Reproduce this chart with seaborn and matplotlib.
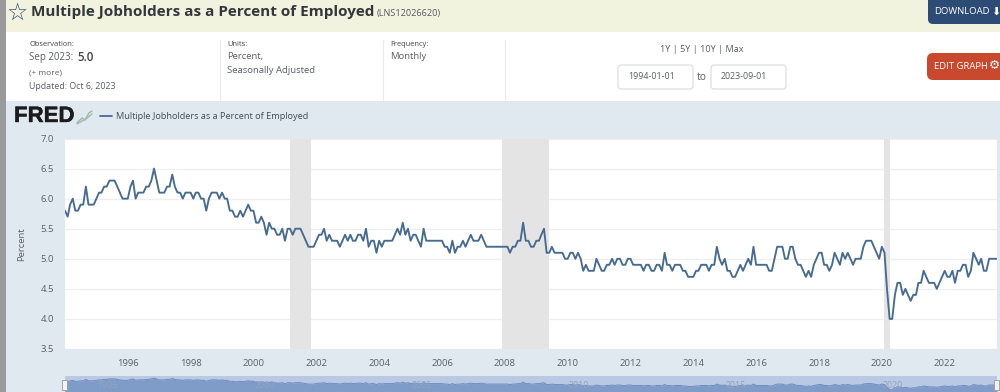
#!/usr/bin/env python3
from __future__ import annotations

import matplotlib
matplotlib.use('Agg')
import matplotlib.dates as mdates
import matplotlib.patheffects as pe
import matplotlib.pyplot as plt
from matplotlib.patches import FancyBboxPatch, Rectangle
import pandas as pd
import seaborn as sns

Y1994 = [5.8, 5.7, 5.9, 6.0, 5.8, 5.8, 5.9, 5.9, 6.2, 5.9, 5.9, 5.9]
Y1995 = [6.0, 6.1, 6.1, 6.2, 6.2, 6.3, 6.3, 6.3, 6.2, 6.1, 6.0, 6.0]
Y1996 = [6.0, 6.2, 6.3, 6.0, 6.1, 6.1, 6.1, 6.2, 6.2, 6.3, 6.5, 6.3]
Y1997 = [6.1, 6.1, 6.1, 6.2, 6.2, 6.4, 6.2, 6.1, 6.1, 6.0, 6.1, 6.1]
Y1998 = [6.1, 6.0, 6.1, 6.1, 6.0, 6.0, 5.8, 6.0, 6.1, 6.1, 6.1, 6.0]
Y1999 = [6.1, 6.0, 6.0, 5.8, 5.8, 5.7, 5.7, 5.8, 5.7, 5.8, 5.9, 5.8]
Y2000 = [5.8, 5.6, 5.6, 5.7, 5.6, 5.4, 5.6, 5.5, 5.5, 5.4, 5.4, 5.5]
Y2001 = [5.3, 5.5, 5.5, 5.4, 5.5, 5.5, 5.5, 5.4, 5.3, 5.2, 5.2, 5.2]
Y2002 = [5.3, 5.4, 5.4, 5.5, 5.3, 5.4, 5.3, 5.3, 5.3, 5.2, 5.3, 5.4]
Y2003 = [5.3, 5.4, 5.3, 5.3, 5.4, 5.4, 5.3, 5.5, 5.2, 5.3, 5.3, 5.1]
Y2004 = [5.3, 5.2, 5.3, 5.3, 5.3, 5.3, 5.4, 5.5, 5.4, 5.6, 5.4, 5.5]
Y2005 = [5.3, 5.4, 5.4, 5.3, 5.2, 5.5, 5.3, 5.3, 5.3, 5.3, 5.3, 5.3]
Y2006 = [5.3, 5.2, 5.2, 5.1, 5.3, 5.1, 5.2, 5.2, 5.3, 5.2, 5.3, 5.4]
Y2007 = [5.3, 5.3, 5.3, 5.4, 5.3, 5.2, 5.2, 5.2, 5.2, 5.2, 5.2, 5.2]
Y2008 = [5.2, 5.2, 5.1, 5.2, 5.2, 5.3, 5.3, 5.6, 5.3, 5.3, 5.2, 5.2]
Y2009 = [5.3, 5.3, 5.4, 5.5, 5.1, 5.1, 5.2, 5.1, 5.1, 5.1, 5.1, 5.0]
Y2010 = [5.0, 5.1, 5.1, 5.0, 5.1, 5.0, 4.8, 4.9, 4.8, 4.8, 4.8, 5.0]
Y2011 = [4.9, 4.8, 4.8, 4.9, 4.9, 5.0, 4.9, 5.0, 5.0, 4.9, 4.9, 5.0]
Y2012 = [5.0, 4.9, 4.9, 4.9, 4.9, 4.8, 4.9, 4.9, 4.8, 4.8, 4.9, 4.9]
Y2013 = [4.8, 5.1, 4.9, 4.9, 4.8, 4.9, 4.9, 4.9, 4.8, 4.8, 4.7, 4.7]
Y2014 = [4.7, 4.8, 4.8, 4.9, 4.9, 4.9, 4.8, 4.9, 4.9, 5.2, 5.0, 4.9]
Y2015 = [5.0, 4.8, 4.8, 4.7, 4.7, 4.8, 4.9, 4.8, 4.9, 5.0, 4.9, 5.2]
Y2016 = [4.9, 4.9, 4.9, 4.9, 4.9, 4.8, 4.8, 5.0, 5.2, 5.2, 5.2, 5.0]
Y2017 = [5.0, 5.2, 5.2, 5.0, 4.9, 4.9, 4.8, 4.7, 4.8, 4.7, 4.9, 5.0]
Y2018 = [5.1, 5.1, 4.9, 4.9, 4.8, 4.9, 5.1, 5.0, 4.9, 5.1, 5.0, 5.1]
Y2019 = [5.0, 4.9, 5.0, 5.0, 5.0, 5.2, 5.3, 5.3, 5.3, 5.2, 5.1, 5.0]
Y2020 = [5.2, 5.1, 4.5, 4.0, 4.0, 4.4, 4.6, 4.6, 4.4, 4.5, 4.4, 4.3]
Y2021 = [4.4, 4.4, 4.6, 4.6, 4.8, 4.7, 4.6, 4.6, 4.6, 4.5, 4.6, 4.7]
Y2022 = [4.8, 4.7, 4.7, 4.8, 4.6, 4.8, 4.8, 4.9, 4.9, 4.7, 4.8, 5.1]
Y2023 = [5.0, 4.9, 5.0, 4.8, 4.8, 5.0, 5.0, 5.0, 5.0]

VALUES = (Y1994 + Y1995 + Y1996 + Y1997 + Y1998 + Y1999 + Y2000 + Y2001 + Y2002 + Y2003
          + Y2004 + Y2005 + Y2006 + Y2007 + Y2008 + Y2009 + Y2010 + Y2011 + Y2012 + Y2013
          + Y2014 + Y2015 + Y2016 + Y2017 + Y2018 + Y2019 + Y2020 + Y2021 + Y2022 + Y2023)

RECESSIONS = [('2001-03-01', '2001-11-01'), ('2007-12-01', '2009-06-01'), ('2020-02-01', '2020-04-01')]
Y_TICKS = [3.5, 4.0, 4.5, 5.0, 5.5, 6.0, 6.5, 7.0]
X_YEARS = list(range(1996, 2024, 2))
NAV_YEARS = [1995, 2000, 2005, 2010, 2015, 2020]

LINE = '#466b91'
PANEL = '#e1e9f0'
TEXT = '#5a5f66'
W, H = 1000, 392


def add_axes_px(fig, left, top, right, bottom, **kw):
    return fig.add_axes([left / W, 1 - bottom / H, (right - left) / W, (bottom - top) / H], **kw)


def draw_page(bg) -> None:
    bg.set_xlim(0, W)
    bg.set_ylim(H, 0)
    bg.axis('off')
    bg.add_patch(Rectangle((0, 0), W, 32, color='#f2f3df', lw=0))
    bg.add_patch(Rectangle((0, 32), W, 69, color='white', lw=0))
    bg.add_patch(Rectangle((0, 101), W, H - 101, color=PANEL, lw=0))
    bg.add_patch(Rectangle((0, 0), 6, H, color='#9a9a9a', lw=0, zorder=5))
    for x in (219.5, 382.5, 504.5):
        bg.plot([x, x], [40, 100], color='#e9ebec', lw=0.8)

    bg.text(17, 12.5, '\u2606', fontsize=17, color='#2f5078', ha='center', va='center',
            family='DejaVu Sans', fontweight='bold')
    bg.text(31, 11.5, 'Multiple Jobholders as a Percent of Employed', fontsize=11, fontweight='bold',
            color='#33373b', va='center')
    bg.text(377, 13, '(LNS12026620)', fontsize=6.6, color='#555a60', va='center')

    bg.text(29, 44.5, 'Observation:', fontsize=5.4, color='#444', va='center')
    bg.text(29, 57, 'Sep 2023:', fontsize=7, color=TEXT, va='center')
    bg.text(77, 57, '5.0', fontsize=8.4, color='#444', va='center', fontweight='semibold')
    bg.text(29, 72.5, '(+ more)', fontsize=6, color=TEXT, va='center')
    bg.text(29, 86, 'Updated: Oct 6, 2023', fontsize=6.4, color=TEXT, va='center')
    bg.text(227, 44.5, 'Units:', fontsize=5.4, color='#444', va='center')
    bg.text(227, 56, 'Percent,', fontsize=6.8, color=TEXT, va='center')
    bg.text(227, 70, 'Seasonally Adjusted', fontsize=6.8, color=TEXT, va='center')
    bg.text(390, 44.5, 'Frequency:', fontsize=5.4, color='#444', va='center')
    bg.text(390, 56, 'Monthly', fontsize=6.8, color=TEXT, va='center')

    bg.text(702, 49.5, '1Y | 5Y | 10Y | Max', fontsize=6.6, color=TEXT, ha='center', va='center')
    for left, label in ((618, '1994-01-01'), (711, '2023-09-01')):
        bg.add_patch(FancyBboxPatch((left, 65), 75, 24, boxstyle='round,pad=0,rounding_size=3',
                                    fc='white', ec='#dcdfe2', lw=0.9))
        bg.text(left + 10, 76.5, label, fontsize=6.4, color=TEXT, va='center')
    bg.text(702, 77, 'to', fontsize=7.4, color=TEXT, ha='center', va='center')

    bg.add_patch(FancyBboxPatch((928, -8), 90, 32, boxstyle='round,pad=0,rounding_size=5', fc='#2c4b75', lw=0))
    bg.text(934, 11.5, 'DOWNLOAD', fontsize=6.8, color='white', va='center')
    bg.text(991, 11.5, '\u2b07', fontsize=8, color='white', va='center', family='DejaVu Sans')
    bg.add_patch(FancyBboxPatch((927, 53), 90, 27, boxstyle='round,pad=0,rounding_size=6', fc='#c9492f', lw=0))
    bg.text(934, 66, 'EDIT GRAPH', fontsize=6.8, color='white', va='center')
    bg.text(989, 65.5, '\u2699', fontsize=9, color='white', va='center', family='DejaVu Sans')

    bg.text(14, 116.5, 'FRED', fontsize=16, fontweight='bold', color='#1c1c1c', va='center',
            family='Liberation Sans', path_effects=[pe.withStroke(linewidth=0.3, foreground='#1c1c1c')])
    bg.plot([77, 82, 85, 89, 92], [123, 118, 120, 113, 111], color='#9db89a', lw=1)
    bg.plot([77, 82, 86, 92], [124, 121, 119, 114], color='#a9b4bd', lw=1)
    bg.plot([100, 112], [115.5, 115.5], color=LINE, lw=1.3)
    bg.text(116, 116.5, 'Multiple Jobholders as a Percent of Employed', fontsize=6.55, color='#444a50', va='center')


def main() -> None:
    sns.set_theme(style='white')
    plt.rcParams['font.family'] = ['Open Sans', 'DejaVu Sans']

    df = pd.DataFrame({'date': pd.date_range('1994-01-01', periods=len(VALUES), freq='MS'), 'value': VALUES})
    xlim = (df['date'].iloc[0], df['date'].iloc[-1])

    fig = plt.figure(figsize=(W / 100, H / 100), dpi=100)
    bg = fig.add_axes([0, 0, 1, 1])
    draw_page(bg)

    ax = add_axes_px(fig, 65, 138.5, 997, 349)
    for start, end in RECESSIONS:
        ax.axvspan(pd.Timestamp(start), pd.Timestamp(end), color='#e4e4e4', lw=0, zorder=1)
    sns.lineplot(data=df, x='date', y='value', ax=ax, color=LINE, lw=1.35, zorder=3)
    ax.set_xlim(*xlim)
    ax.set_ylim(3.5, 7.0)
    ax.set_yticks(Y_TICKS, [f'{v:.1f}' for v in Y_TICKS])
    ax.set_xticks([pd.Timestamp(f'{y}-01-01') for y in X_YEARS])
    ax.xaxis.set_major_formatter(mdates.DateFormatter('%Y'))
    ax.grid(axis='y', color='#efefef', lw=0.9, zorder=0)
    ax.set_axisbelow(True)
    ax.tick_params(axis='x', colors=TEXT, labelsize=6.8, length=3, width=0.6, color='#ccd6eb', pad=4)
    ax.tick_params(axis='y', colors=TEXT, labelsize=6.8, length=0, pad=8)
    ax.set_xlabel('')
    ax.set_ylabel('Percent', fontsize=6.8, color=TEXT, labelpad=10)
    sns.despine(ax=ax, left=True, bottom=True, top=True, right=True)

    nav = add_axes_px(fig, 65, 375.7, 997, 392)
    nav.set_facecolor('#b9c8e3')
    nav.fill_between(df['date'], df['value'], 3.0, color='#7f9bc8', lw=0)
    sns.lineplot(data=df, x='date', y='value', ax=nav, color='#6f8dbf', lw=0.7)
    nav.set_xlim(*xlim)
    nav.set_ylim(3.5, 7.0)
    nav.set_xticks([])
    nav.set_yticks([])
    nav.set_xlabel('')
    nav.set_ylabel('')
    sns.despine(ax=nav, left=True, bottom=True, top=True, right=True)
    for year in NAV_YEARS:
        nav.annotate(str(year), (pd.Timestamp(f'{year}-01-01'), 3.5), xytext=(11, 2), textcoords='offset pixels',
                     ha='center', va='bottom', fontsize=6.4, color='#92a4c4')

    bg.set_zorder(0)
    ax.set_zorder(1)
    nav.set_zorder(1)
    for x in (64.5, 996.5):
        fig.add_artist(Rectangle((x - 2.5, 380), 5, 10, fc='#f2f2f2', ec='#999999', lw=0.6,
                                 transform=bg.transData, zorder=6))

    fig.savefig('out.png', dpi=100)
    plt.close(fig)


if __name__ == '__main__':
    main()
